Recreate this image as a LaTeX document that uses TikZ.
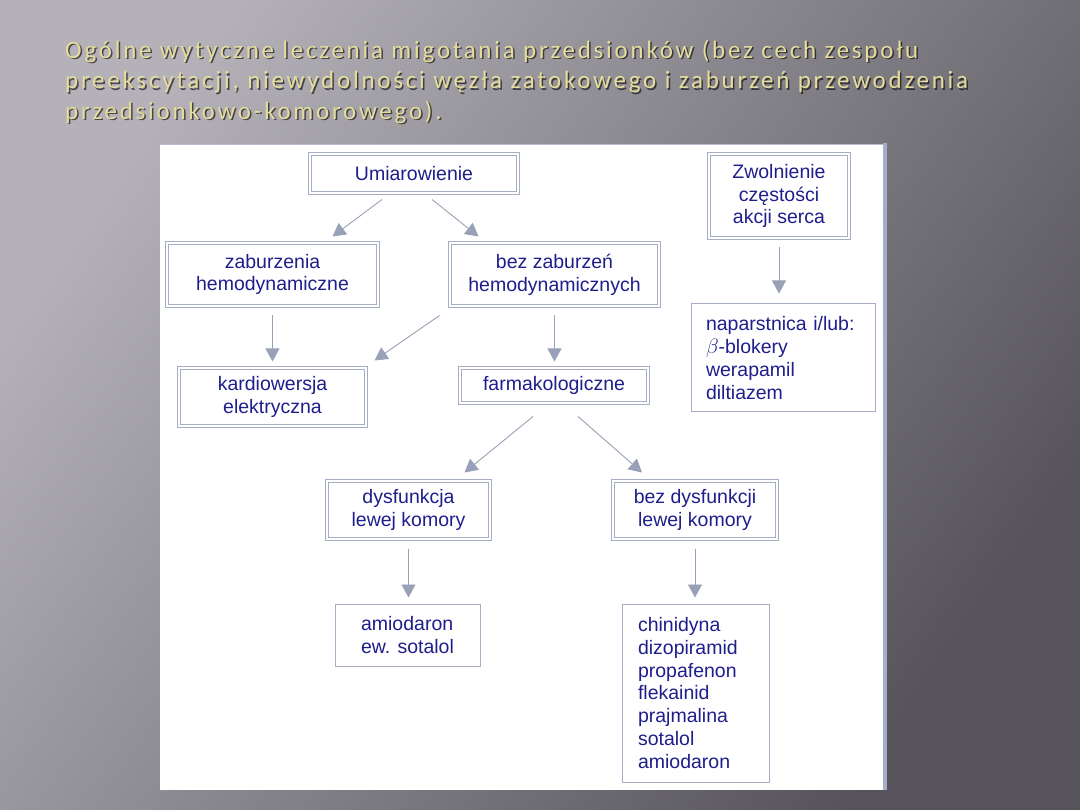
\documentclass[tikz,border=0pt]{standalone}
\usepackage{fontspec}
\setmainfont{Liberation Sans}
\newfontfamily\titlefont[LetterSpace=11]{Carlito}
\usetikzlibrary{arrows.meta}
\definecolor{txt}{HTML}{1E1E8C}
\definecolor{bord}{HTML}{A6AEC6}
\definecolor{arr}{HTML}{98A1B8}
\definecolor{ttl}{HTML}{E4DC9C}
\definecolor{bgA}{HTML}{B4B1B9}
\definecolor{bgB}{HTML}{6E6D72}
\definecolor{bgC}{HTML}{56545A}
\begin{document}
\begin{tikzpicture}[x=1pt,y=-1pt,
  dbox/.style={draw=bord, double=white, double distance=2pt, line width=1pt,
    text=txt, font=\fontsize{19.5}{22.7}\selectfont, align=center, inner sep=0pt},
  sbox/.style={draw=bord, line width=1pt, fill=white,
    text=txt, font=\fontsize{19.5}{22.7}\selectfont, align=left, inner sep=0pt},
  conn/.style={draw=arr, line width=0.9pt, -{Triangle[width=14pt,length=13pt]}},
  ttlstyle/.style={font=\titlefont\fontsize{25}{30.5}\selectfont, align=left, anchor=north west, inner sep=0pt}
]
\useasboundingbox (0,0) rectangle (1080,810);
\shade[top color=bgA, middle color=bgB, bottom color=bgC, shading angle=55] (0,0) rectangle (1080,810);
% panel
\fill[white] (160,144) rectangle (884,790);
\draw[bord!80, line width=1.5pt] (160,144.5) -- (885,144.5);
\fill[bord] (883,143) rectangle (887,790);
% title
\node[ttlstyle, text=black, opacity=0.6] (tshadow) at (66.5,41.5) {Ogólne wytyczne leczenia migotania przedsionków (bez cech zespołu\\preekscytacji, niewydolności węzła zatokowego i zaburzeń przewodzenia\\przedsionkowo-komorowego).};
\node[ttlstyle, text=ttl] (title) at (65,40) {Ogólne wytyczne leczenia migotania przedsionków (bez cech zespołu\\preekscytacji, niewydolności węzła zatokowego i zaburzeń przewodzenia\\przedsionkowo-komorowego).};
% boxes
\node[dbox, minimum width=208pt, minimum height=39pt] (u) at (414,173.5) {Umiarowienie};
\node[dbox, minimum width=211pt, minimum height=63pt] (zh) at (272.5,274.5) {zaburzenia\\hemodynamiczne};
\node[dbox, minimum width=209pt, minimum height=63pt] (bz) at (554.5,274.5) {bez zaburzeń\\hemodynamicznych};
\node[dbox, minimum width=187pt, minimum height=58pt] (ke) at (272.5,397) {kardiowersja\\elektryczna};
\node[dbox, minimum width=188pt, minimum height=35pt] (fa) at (554,385.5) {farmakologiczne};
\node[dbox, minimum width=140pt, minimum height=84pt] (zw) at (779,196) {Zwolnienie\\częstości\\akcji serca};
\node[sbox, text width=154pt, inner xsep=15pt, minimum height=108pt] (na) at (783,358) {naparstnica i/lub:\\$\beta$-blokery\\werapamil\\diltiazem};
\node[dbox, minimum width=163pt, minimum height=58pt] (dy) at (408.5,510) {dysfunkcja\\lewej komory};
\node[dbox, minimum width=164pt, minimum height=58pt] (bd) at (695,510) {bez dysfunkcji\\lewej komory};
\node[sbox, minimum width=145pt, minimum height=62pt] (am) at (407.5,635) {amiodaron\\ew. sotalol};
\node[sbox, text width=115pt, inner xsep=16pt, minimum height=178pt] (ch) at (695.5,693) {chinidyna\\dizopiramid\\propafenon\\flekainid\\prajmalina\\sotalol\\amiodaron};
% connectors
\draw[conn] ([shift={(-32,6)}]u.south) -- ([shift={(60,-6)}]zh.north);
\draw[conn] ([shift={(18,6)}]u.south) -- ([shift={(-76,-6)}]bz.north);
\draw[conn, shorten <=9pt, shorten >=6pt] (zh.south) -- (zh.south |- ke.north);
\draw[conn] ([shift={(-115,9)}]bz.south) -- ([shift={(8,-7)}]ke.north east);
\draw[conn, shorten <=9pt, shorten >=6pt] (bz.south) -- (bz.south |- fa.north);
\draw[conn] ([shift={(-21,13)}]fa.south) -- ([shift={(56,-8)}]dy.north);
\draw[conn] ([shift={(24,13)}]fa.south) -- ([shift={(-53,-8)}]bd.north);
\draw[conn, shorten <=9pt, shorten >=6pt] (dy.south) -- (dy.south |- am.north);
\draw[conn, shorten <=9pt, shorten >=6pt] (bd.south) -- (bd.south |- ch.north);
\draw[conn, shorten <=9pt, shorten >=10pt] (zw.south) -- (zw.south |- na.north);
\end{tikzpicture}
\end{document}
